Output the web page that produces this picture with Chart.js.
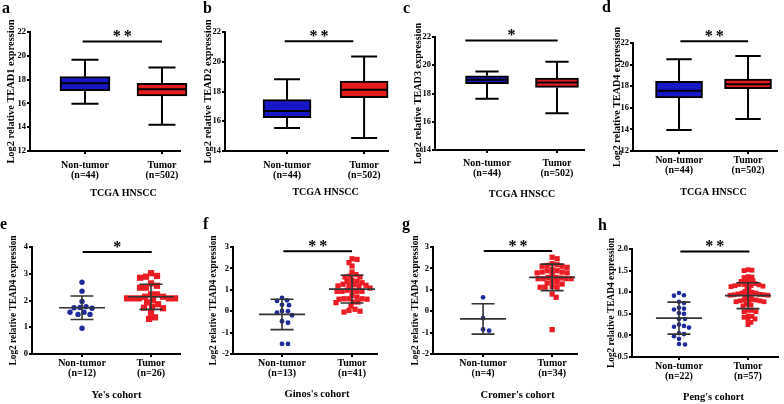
<!DOCTYPE html>
<html>
<head>
<meta charset="utf-8">
<script src="https://cdn.jsdelivr.net/npm/chart.js@4.4.1/dist/chart.umd.min.js"></script>
<style>
  body { margin: 0; background: #fff; }
  #fig { position: relative; width: 784px; height: 404px; overflow: hidden; background: #fff; }
  .panel { position: absolute; }
  .letter { position: absolute; font: bold 16px/1 'Liberation Serif', 'Times New Roman', serif; color: #000; }
</style>
</head>
<body>
<div id="fig"></div>
<script>
const groups = ['Non-tumor', 'Tumor'];

// TCGA HNSCC, each box is [min, q1, median, q3, max]
const tcgaCounts = [44, 502];
const tead1Box = [[15.97, 17.07, 17.69, 18.25, 19.66], [14.2, 16.62, 17.18, 17.69, 19.01]];
const tead2Box = [[15.54, 16.24, 16.69, 17.45, 18.82], [14.87, 17.58, 18.12, 18.7, 20.36]];
const tead3Box = [[17.62, 18.69, 18.97, 19.25, 19.56], [16.6, 18.43, 18.78, 19.09, 20.25]];
const tead4Box = [[13.94, 16.91, 17.59, 18.45, 20.49], [14.96, 17.77, 18.17, 18.67, 20.8]];

// TEAD4 in the other cohorts (single samples), mean/sd = [mean, sd]
const yeCounts = [12, 26];
const yeNormal = [2.68, 2.35, 1.96, 1.77, 1.74, 1.73, 1.71, 1.56, 1.56, 1.48, 1.48, 0.96];
const yeTumor = [3.02, 2.92, 2.89, 2.85, 2.64, 2.55, 2.48, 2.48, 2.23, 2.23, 2.14, 2.14, 2.08, 2.08, 2.08,
  2.08, 2.08, 2.02, 1.93, 1.86, 1.77, 1.73, 1.71, 1.54, 1.37, 1.31];
const yeMeanSd = [[1.73, 0.44], [2.14, 0.47]];

const ginosCounts = [13, 41];
const ginosNormal = [0.62, 0.51, 0.48, 0.30, 0.28, 0.01, 0.00, -0.07, -0.19, -0.47, -0.54, -1.53, -1.53];
const ginosTumor = [2.45, 2.42, 2.27, 2.11, 1.83, 1.71, 1.64, 1.60, 1.60, 1.44, 1.40, 1.40, 1.33, 1.26,
  1.24, 1.21, 1.21, 1.18, 1.16, 1.08, 0.98, 0.98, 0.93, 0.93, 0.93, 0.93, 0.74, 0.66, 0.58, 0.58, 0.58,
  0.56, 0.56, 0.43, 0.43, 0.40, 0.24, 0.09, 0.04, 0.00, -0.04];
const ginosMeanSd = [[-0.15, 0.71], [1.03, 0.65]];

const cromerCounts = [4, 34];
const cromerNormal = [0.65, -0.33, -0.85, -0.91];
const cromerTumor = [2.52, 2.45, 2.22, 2.17, 2.14, 2.10, 2.10, 2.05, 1.94, 1.89, 1.89, 1.83, 1.83, 1.79,
  1.79, 1.71, 1.58, 1.58, 1.55, 1.52, 1.52, 1.52, 1.52, 1.40, 1.36, 1.32, 1.27, 1.16, 1.12, 1.12, 1.12,
  0.80, 0.65, -0.86];
const cromerMeanSd = [[-0.36, 0.71], [1.58, 0.62]];

const pengCounts = [22, 57];
const pengNormal = [0.98, 0.93, 0.92, 0.78, 0.75, 0.64, 0.62, 0.60, 0.52, 0.50, 0.38, 0.38, 0.25, 0.22,
  0.20, 0.18, 0.05, 0.03, -0.02, -0.08, -0.20, -0.21];
const pengTumor = [1.52, 1.50, 1.51, 1.35, 1.36, 1.34, 1.28, 1.27, 1.25, 1.26, 1.20, 1.18, 1.17, 1.15,
  1.14, 1.13, 1.12, 1.15, 1.18, 1.20, 1.05, 1.02, 1.00, 0.98, 0.96, 0.95, 0.94, 0.93, 0.92, 0.92, 0.93,
  0.94, 0.96, 0.98, 0.85, 0.83, 0.82, 0.80, 0.78, 0.77, 0.78, 0.80, 0.82, 0.72, 0.70, 0.68, 0.58, 0.55,
  0.55, 0.58, 0.45, 0.42, 0.44, 0.38, 0.35, 0.30, 0.25];
const pengMeanSd = [[0.40, 0.37], [0.92, 0.30]];

// y axes [min, max, step] and significance bars, panels a..h
const yTicks = [[12, 22, 2], [14, 22, 2], [14, 22, 2], [12, 22, 2], [0, 4, 1], [-2, 3, 1], [-2, 3, 1], [-0.5, 2, 0.5]];
const sigStars = ['**', '**', '*', '**', '*', '**', '**', '**'];
const sigLevel = [21.2, 21.37, 21.76, 22.16, 3.81, 2.8, 2.81, 1.94];
const sigFrom = [0.97, 0.97, 0.69, 1.02, 1.01, 1.02, 1.01, 1.02];
const sigTo = [2.0, 1.86, 2.01, 2.0, 2.01, 2.0, 2.0, 2.02];

const BOX_BLUE = '#1818c8', BOX_RED = '#e41c1c', DOT_BLUE = '#1e2a9e', DOT_RED = '#ec1c24';
const FONT = "'Liberation Serif', 'Times New Roman', serif";
Chart.defaults.font.family = FONT;
Chart.defaults.font.weight = 'bold';
Chart.defaults.color = '#000';

// page layout: rect = canvas box, area = plot box (page pixels)
const panels = [
  {letter: 'a', gene: 'TEAD1', xTitle: 'TCGA HNSCC', counts: tcgaCounts, box: tead1Box,
   lay: {rect: [0, 0, 195, 200], area: [30, 32, 180, 151], x: [0.286, 2.234], labelPad: 6, titleY: 193, xTitleSize: 10, yTitle: [11, 10.4], boxW: 50, letterAt: [2, 13]}},
  {letter: 'b', gene: 'TEAD2', xTitle: 'TCGA HNSCC', counts: tcgaCounts, box: tead2Box,
   lay: {rect: [195, 0, 195, 200], area: [225, 32, 388, 151], x: [0.195, 2.31], labelPad: 6, titleY: 192, xTitleSize: 10, yTitle: [208, 10.4], boxW: 48, letterAt: [203, 13]}},
  {letter: 'c', gene: 'TEAD3', xTitle: 'TCGA HNSCC', counts: tcgaCounts, box: tead3Box,
   lay: {rect: [390, 0, 195, 200], area: [435, 37, 584, 150], x: [0.257, 2.386], labelPad: 5, titleY: 194, xTitleSize: 10, yTitle: [418, 10.2], boxW: 43, letterAt: [403, 13]}},
  {letter: 'd', gene: 'TEAD4', xTitle: 'TCGA HNSCC', counts: tcgaCounts, box: tead4Box,
   lay: {rect: [585, 0, 199, 200], area: [633, 43, 777, 151], x: [0.333, 2.42], labelPad: 1, titleY: 192, xTitleSize: 10, yTitle: [617, 10.1], boxW: 47, letterAt: [602, 12]}},
  {letter: 'e', gene: 'TEAD4', xTitle: "Ye's cohort", counts: yeCounts, normal: yeNormal, tumor: yeTumor, meanSd: yeMeanSd,
   lay: {rect: [0, 200, 195, 204], area: [32, 247, 180, 354], x: [0.275, 2.42], labelPad: 1, titleY: 395, xTitleSize: 10.5, yTitle: [14, 9.4], dot: 2.7, sq: 4.4, gap: 0.95, letterAt: [0, 229]}},
  {letter: 'f', gene: 'TEAD4', xTitle: "Ginos's cohort", counts: ginosCounts, normal: ginosNormal, tumor: ginosTumor, meanSd: ginosMeanSd,
   lay: {rect: [195, 200, 195, 204], area: [233, 247, 377, 354], x: [0.3, 2.357], labelPad: 1, titleY: 394, xTitleSize: 10.5, yTitle: [214, 9.4], dot: 2.4, sq: 3.7, gap: 0.85, letterAt: [203, 229]}},
  {letter: 'g', gene: 'TEAD4', xTitle: "Cromer's cohort", counts: cromerCounts, normal: cromerNormal, tumor: cromerTumor, meanSd: cromerMeanSd,
   lay: {rect: [390, 200, 195, 204], area: [433, 247, 577, 354], x: [0.275, 2.36], labelPad: 1, titleY: 395, xTitleSize: 10.5, yTitle: [416, 9.4], dot: 2.4, sq: 3.7, gap: 0.85, letterAt: [402, 229]}},
  {letter: 'h', gene: 'TEAD4', xTitle: "Peng's cohort", counts: pengCounts, normal: pengNormal, tumor: pengTumor, meanSd: pengMeanSd,
   lay: {rect: [585, 200, 199, 204], area: [632, 249, 778, 357], x: [0.319, 2.435], labelPad: 1, titleY: 397, xTitleSize: 10.5, yTitle: [612, 9.4], dot: 2.3, sq: 3.4, gap: 0.72, letterAt: [598, 230]}}
];

const fig = document.getElementById('fig');

// spread points sideways so they don't sit on top of each other (like a dot plot)
function spread(values, center, chart, size) {
  const xs = chart.scales.x, ys = chart.scales.y;
  const cx = xs.getPixelForValue(center);
  const placed = [];
  const out = new Array(values.length);
  const order = values.map((v, i) => i).sort((a, b) => values[b] - values[a]);
  for (const i of order) {
    const py = ys.getPixelForValue(values[i]);
    let px = cx;
    for (let k = 0; k < 120; k++) {
      const tx = cx + (k % 2 ? 1 : -1) * Math.ceil(k / 2);
      if (placed.every(q => Math.hypot(q[0] - tx, q[1] - py) >= size)) { px = tx; break; }
    }
    placed.push([px, py]);
    out[i] = {x: xs.getValueForPixel(px), y: values[i]};
  }
  return out;
}

function makePanel(p, i) {
  const L = p.lay;
  const [rl, rt, rw, rh] = L.rect;
  const [al, at, ar, ab] = L.area;
  const isBox = !!p.box;

  const holder = document.createElement('div');
  holder.className = 'panel';
  holder.style.left = rl + 'px';
  holder.style.top = rt + 'px';
  const canvas = document.createElement('canvas');
  canvas.width = rw;
  canvas.height = rh;
  holder.appendChild(canvas);
  fig.appendChild(holder);

  const letter = document.createElement('div');
  letter.className = 'letter';
  letter.textContent = p.letter;
  letter.style.left = L.letterAt[0] + 'px';
  letter.style.top = Math.round(L.letterAt[1] - 13.4) + 'px';
  fig.appendChild(letter);

  const [yMin, yMax, yStep] = yTicks[i];

  const extras = {
    id: 'extras',
    beforeDatasetsDraw(chart) {
      if (!isBox) return;
      const {ctx, scales: {x, y}} = chart;
      ctx.save();
      ctx.strokeStyle = '#000';
      ctx.lineWidth = 2;
      p.box.forEach((b, g) => {
        const cx = x.getPixelForValue(g + 1), cap = L.boxW * 0.27;
        ctx.beginPath();
        ctx.moveTo(cx, y.getPixelForValue(b[4]));
        ctx.lineTo(cx, y.getPixelForValue(b[3]));
        ctx.moveTo(cx, y.getPixelForValue(b[1]));
        ctx.lineTo(cx, y.getPixelForValue(b[0]));
        [b[0], b[4]].forEach(v => {
          const py = y.getPixelForValue(v);
          ctx.moveTo(cx - cap, py);
          ctx.lineTo(cx + cap, py);
        });
        ctx.stroke();
      });
      ctx.restore();
    },
    afterDatasetsDraw(chart) {
      const {ctx, scales: {x, y}} = chart;
      ctx.save();
      if (isBox) {
        ctx.strokeStyle = '#000';
        ctx.lineWidth = 2;
        p.box.forEach((b, g) => {
          const cx = x.getPixelForValue(g + 1), py = y.getPixelForValue(b[2]);
          ctx.beginPath();
          ctx.moveTo(cx - L.boxW / 2 + 1, py);
          ctx.lineTo(cx + L.boxW / 2 - 1, py);
          ctx.stroke();
        });
      } else {
        ctx.strokeStyle = '#333';
        ctx.lineWidth = 1.6;
        p.meanSd.forEach(([m, sd], g) => {
          const cx = x.getPixelForValue(g + 1);
          const pm = y.getPixelForValue(m), pt = y.getPixelForValue(m + sd), pb = y.getPixelForValue(m - sd);
          ctx.beginPath();
          ctx.moveTo(cx - 23, pm); ctx.lineTo(cx + 23, pm);
          ctx.moveTo(cx, pt); ctx.lineTo(cx, pb);
          ctx.moveTo(cx - 11.5, pt); ctx.lineTo(cx + 11.5, pt);
          ctx.moveTo(cx - 11.5, pb); ctx.lineTo(cx + 11.5, pb);
          ctx.stroke();
        });
      }
      // significance bar
      const sy = y.getPixelForValue(sigLevel[i]);
      const sx1 = x.getPixelForValue(sigFrom[i]), sx2 = x.getPixelForValue(sigTo[i]);
      ctx.strokeStyle = '#000';
      ctx.lineWidth = 2;
      ctx.beginPath();
      ctx.moveTo(sx1, sy);
      ctx.lineTo(sx2, sy);
      ctx.stroke();
      ctx.fillStyle = '#000';
      ctx.font = 'bold 16px ' + FONT;
      ctx.textAlign = 'center';
      ctx.textBaseline = 'alphabetic';
      ctx.letterSpacing = '3px';
      ctx.fillText(sigStars[i], (sx1 + sx2) / 2 + 1.5, sy - 0.5);
      ctx.letterSpacing = '0px';
      // x axis title, centred between the two groups
      ctx.font = 'bold ' + L.xTitleSize + 'px ' + FONT;
      ctx.textBaseline = 'middle';
      ctx.fillText(p.xTitle, (x.getPixelForValue(1) + x.getPixelForValue(2)) / 2, L.titleY - rt);
      ctx.restore();
    }
  };

  const datasets = isBox ? [{
    data: p.box.map((b, g) => ({x: g + 1, y: [b[1], b[3]]})),
    backgroundColor: [BOX_BLUE, BOX_RED],
    borderColor: '#000',
    borderWidth: 2,
    borderSkipped: false,
    barThickness: L.boxW,
    clip: false
  }] : [
    {data: p.normal.map(v => ({x: 1, y: v})), pointStyle: 'circle', pointRadius: L.dot, backgroundColor: DOT_BLUE, borderWidth: 0},
    {data: p.tumor.map(v => ({x: 2, y: v})), pointStyle: 'rect', pointRadius: L.sq, backgroundColor: DOT_RED, borderWidth: 0}
  ];

  const chart = new Chart(canvas, {
    type: isBox ? 'bar' : 'scatter',
    data: {datasets},
    plugins: [extras],
    options: {
      responsive: false,
      animation: false,
      events: [],
      layout: {padding: {left: 0, top: at - rt, right: rl + rw - ar, bottom: 0}},
      plugins: {legend: {display: false}, tooltip: {enabled: false}},
      scales: {
        x: {
          type: 'linear', min: L.x[0], max: L.x[1], offset: false, bounds: 'data',
          afterBuildTicks: s => { s.ticks = [{value: 1}, {value: 2}]; },
          afterFit: s => { s.height = rt + rh - ab; },
          grid: {drawOnChartArea: false, offset: false, tickLength: 3, color: '#000', lineWidth: 2},
          border: {display: true, color: '#000', width: 2},
          ticks: {
            autoSkip: false, maxRotation: 0, padding: L.labelPad,
            font: {size: 10, lineHeight: 1},
            callback: v => [groups[v - 1], '(n=' + p.counts[v - 1] + ')']
          }
        },
        y: {
          min: yMin, max: yMax,
          afterFit: s => { s.width = al - rl; },
          grid: {drawOnChartArea: false, tickLength: 3, color: '#000', lineWidth: 2},
          border: {display: true, color: '#000', width: 2},
          ticks: {stepSize: yStep, padding: 1, font: {size: 8.5}, callback: v => yStep < 1 ? v.toFixed(1) : v},
          title: {
            display: true,
            text: 'Log2 relative ' + p.gene + ' expression',
            font: {size: L.yTitle[1], lineHeight: 1.2},
            padding: {top: L.yTitle[0] - rl - L.yTitle[1] * 0.6, bottom: 0}
          }
        }
      }
    }
  });

  if (!isBox) {
    chart.data.datasets[0].data = spread(p.normal, 1, chart, L.dot * 2 * 1.1);
    chart.data.datasets[1].data = spread(p.tumor, 2, chart, L.sq * 1.414 * L.gap);
    chart.update('none');
  }
}

panels.forEach(makePanel);
</script>
</body>
</html>
